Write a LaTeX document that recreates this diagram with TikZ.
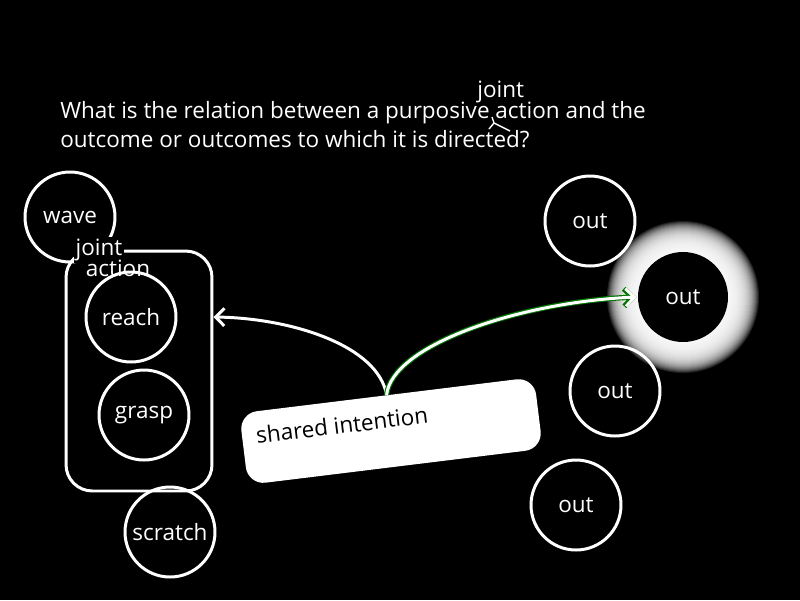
\documentclass[tikz,border=0pt]{standalone}
\usepackage{fontspec}
\setmainfont{Open Sans}
\usetikzlibrary{arrows.meta,calc}
\begin{document}
\begin{tikzpicture}[x=0.02cm,y=-0.02cm,
  lbl/.style={text=white, font=\fontsize{12.8}{15}\selectfont, inner sep=0pt},
  circ/.style={draw=white, line width=1.7pt, circle, minimum size=1.8cm, inner sep=0pt, text=white, font=\fontsize{12.8}{15}\selectfont},
  title/.style={text=white, font=\fontsize{12.8}{15}\selectfont, inner sep=0pt, anchor=base west},
  conn/.style={white, line width=1.7pt, -{Straight Barb[length=5pt,width=10pt,line width=1.7pt]}},
  glowline/.style={green!45!black, line width=3pt, -{Straight Barb[length=5pt,width=10pt,line width=3pt]}}]
\useasboundingbox (0,0) rectangle (800,600);
\fill[black] (0,0) rectangle (800,600);
% title
\node[title] (t1) at (60,118) {What is the relation between a purposive action and the};
\node[title] (t2) at (60,147) {outcome or outcomes to which it is directed?};
\node[title] (tj) at (477,97) {joint};
\draw[white, line width=0.8pt] (492,117) -- (494,123) coordinate (cj) -- (489,129);
\draw[white, line width=0.8pt] (cj) -- (510,131);
% left group
\node[circ] (wave) at (70,217) {wave};
\node[draw=white, line width=1.7pt, rounded corners=15pt, minimum width=2.92cm, minimum height=4.8cm, inner sep=0pt] (ja) at (139,371) {};
\node[lbl, fill=black, inner sep=1pt] (jl1) at (99,250) {joint};
\node[lbl, fill=black, inner sep=1pt] (jl2) at (118,268) {action};
\node[circ] (reach) at (131,317) {reach};
\node[circ] (grasp) at (144,415) {grasp};
\node[circ] (scratch) at (170,532) {scratch};
% outcomes
\node[circ] (out1) at (590,221) {out};
\foreach \r in {46,47,...,76} \fill[white, opacity=0.12] (683,297) circle[radius=\r];
\node[circ, fill=black, draw=none] (out2) at (683,297) {out};
\node[circ] (out3) at (615,391) {out};
\node[circ] (out4) at (576,505) {out};
% shared intention
\node[fill=white, rounded corners=10pt, rotate=7, minimum width=5.94cm, minimum height=1.44cm, inner sep=0pt] (si) at (391,431) {};
\node[lbl, text=black, rotate=7] (silbl) at (342,425) {shared intention};
% connectors
\draw[conn] (si.north) .. controls (378,345) and (290,318) .. (ja.east |- reach.center);
\draw[glowline] (si.north) .. controls (392,345) and (520,302) .. (out2.west);
\draw[conn] (si.north) .. controls (392,345) and (520,302) .. (out2.west);
\end{tikzpicture}
\end{document}
